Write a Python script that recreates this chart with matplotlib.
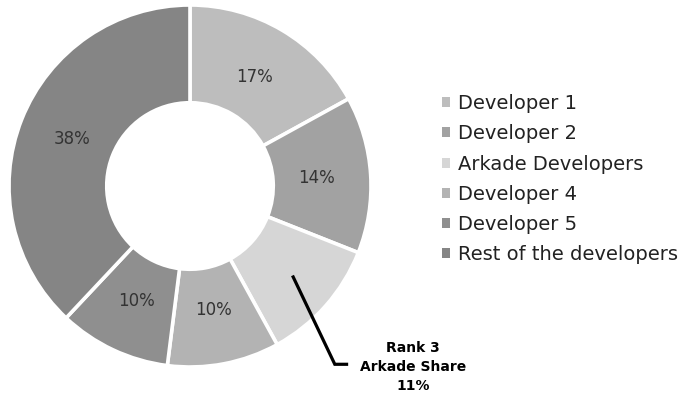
import matplotlib
matplotlib.use("Agg")
import matplotlib.pyplot as plt
from matplotlib.patches import Patch
import numpy as np

# Market share by developer
labels = ["Developer 1", "Developer 2", "Arkade Developers",
          "Developer 4", "Developer 5", "Rest of the developers"]
shares = [17, 14, 11, 10, 10, 38]
colors = ["#bdbdbd", "#a2a2a2", "#d6d6d6", "#b3b3b3", "#8f8f8f", "#858585"]
highlight = "Arkade Developers"
callout = ["Rank 3", "Arkade Share", "11%"]

plt.rcParams["font.family"] = ["DejaVu Sans"]

fig = plt.figure(figsize=(6.93, 4.0), dpi=100)
ax = fig.add_axes([9 / 693, 1 - 367 / 400, 362 / 693, 362 / 400])

inner = 0.46
wedges, texts, autotexts = ax.pie(
    shares, colors=colors, startangle=90, counterclock=False,
    radius=1.0, autopct=lambda p: f"{p:.0f}%", pctdistance=0.70,
    wedgeprops=dict(width=1 - inner, edgecolor="white", linewidth=2.6),
    textprops=dict(fontsize=12, color="#333333"))
ax.set_xlim(-1, 1)
ax.set_ylim(-1, 1)
ax.set_aspect("equal")

# The highlighted slice carries its value in the callout instead
idx = labels.index(highlight)
autotexts[idx].set_visible(False)

# Callout for the highlighted slice
w = wedges[idx]
mid = np.deg2rad((w.theta1 + w.theta2) / 2)
r0 = 0.76
start = (r0 * np.cos(mid), r0 * np.sin(mid))
elbow = (0.80, -0.985)
end = (0.865, -0.985)
ax.plot([start[0], elbow[0], end[0]], [start[1], elbow[1], end[1]],
        color="black", lw=2.3, clip_on=False, solid_joinstyle="miter")
ax.text(1.232, -1.0, "\n".join(callout), ha="center", va="center",
        fontsize=10, fontweight="bold", linespacing=1.45, clip_on=False)

handles = [Patch(facecolor=c, edgecolor="none") for c in colors]
fig.legend(handles, labels, loc="upper left", bbox_to_anchor=(442 / 693, 1 - 94 / 400),
           frameon=False, fontsize=14, handlelength=0.42, handleheight=0.42,
           handletextpad=0.42, labelspacing=0.58, borderaxespad=0, borderpad=0,
           labelcolor="#222222")

fig.savefig("out.png", dpi=100)
